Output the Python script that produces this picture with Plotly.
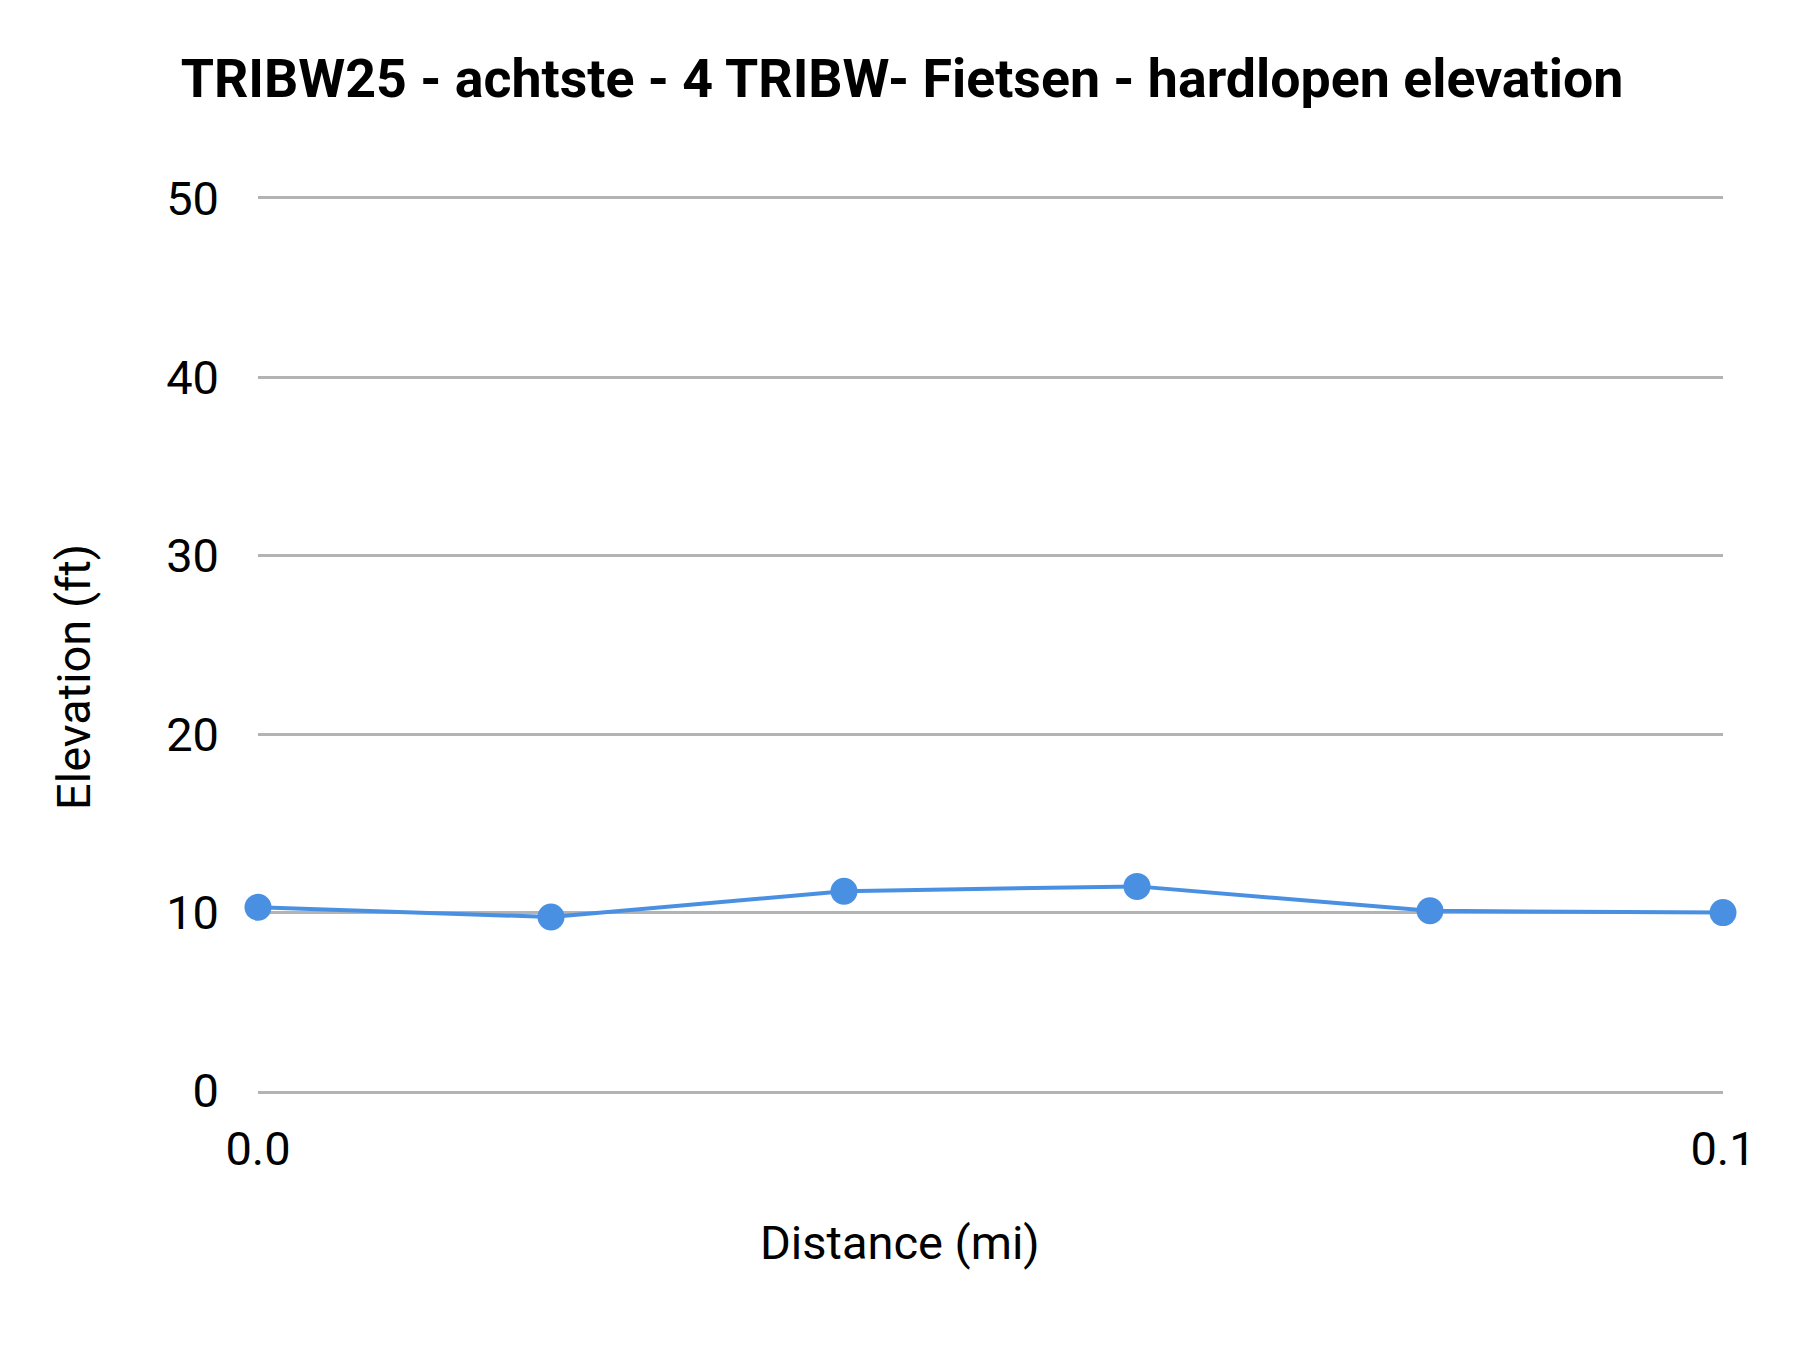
import plotly.graph_objects as go

# distance (mi) and elevation (ft)
distance = [0.0, 0.02, 0.04, 0.06, 0.08, 0.1]
elevation = [10.3, 9.75, 11.2, 11.47, 10.1, 10.0]

title = "TRIBW25 - achtste - 4 TRIBW- Fietsen - hardlopen elevation"
x_title = "Distance (mi)"
y_title = "Elevation (ft)"
blue = "#4a90e2"
grid = "#b3b3b3"

# page body adds 8px margin, so figure is a bit smaller than the window
W, H = 1792, 1342
L, R, T, B = 250, 77, 191, 259
pw, ph = W - L - R, H - T - B

fig = go.Figure()
fig.add_trace(go.Scatter(x=distance, y=elevation, mode="lines+markers",
                         line=dict(color=blue, width=4),
                         marker=dict(color=blue, size=27),
                         cliponaxis=False, showlegend=False))

fig.update_layout(
    width=W, height=H,
    paper_bgcolor="white", plot_bgcolor="white",
    font=dict(family="Roboto", color="#000000", size=47),
    title=dict(text="<b>" + title + "</b>", x=894 / W, xanchor="center",
               y=1 - 70 / H, yanchor="middle",
               font=dict(family="Roboto", size=53.7, color="#000000")),
    margin=dict(l=L, r=R, t=T, b=B),
)
# axis titles as annotations: they sit centred on the page, not the plot
fig.add_annotation(text=x_title, xref="paper", yref="paper",
                   x=(892 - L) / pw, y=-(1242 - 1091) / ph,
                   xanchor="center", yanchor="middle", showarrow=False,
                   font=dict(size=47))
fig.add_annotation(text=y_title, xref="paper", yref="paper", textangle=-90,
                   x=(65 - L) / pw, y=(1091 - 677) / ph,
                   xanchor="center", yanchor="middle", showarrow=False,
                   font=dict(size=47))

fig.update_xaxes(range=[0, 0.1], tickvals=[0, 0.1], tickformat=".1f",
                 showgrid=False, zeroline=False,
                 showline=True, mirror=True, linecolor=grid, linewidth=2.5,
                 ticks="", ticklabelstandoff=15)
fig.update_yaxes(range=[0, 50], dtick=10, showgrid=True, gridcolor=grid,
                 gridwidth=2.5, zeroline=False, showline=False,
                 ticks="", ticklabelstandoff=38)

fig.write_html("out.html")
